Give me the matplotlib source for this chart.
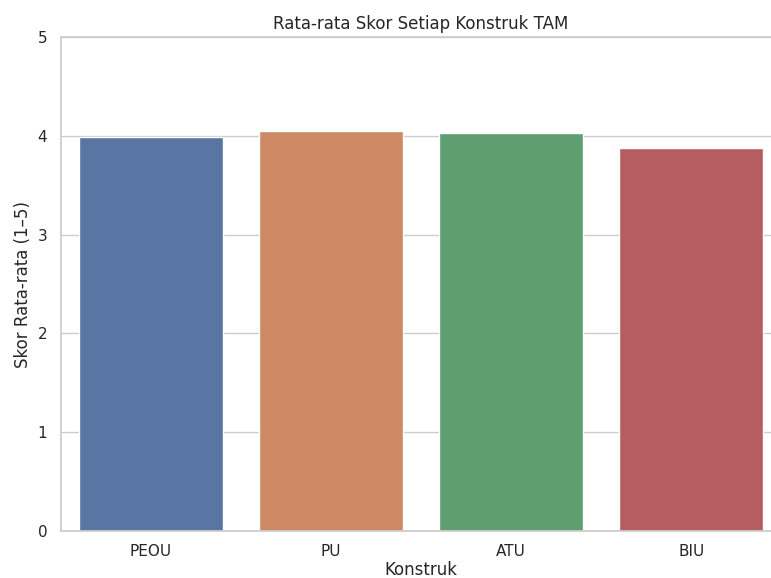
import numpy as np
import matplotlib
matplotlib.use('Agg')
import matplotlib.pyplot as plt
import seaborn as sns

# Data
konstruk = ['PEOU', 'PU', 'ATU', 'BIU']
skor = [3.983, 4.05, 4.024, 3.876]

sns.set_theme(style='whitegrid')
plt.rcParams['font.family'] = ['DejaVu Sans']

fig = plt.figure(figsize=(7.71, 5.78), dpi=100)
# axes runs a bit past the right edge (cropped in the original)
ax = fig.add_axes([0.0785, 0.0813, 0.935, 0.8547])

sns.barplot(x=konstruk, y=skor, hue=konstruk, palette='deep', legend=False, ax=ax)
ax.set_ylim(0, 5)
ax.set_title('Rata-rata Skor Setiap Konstruk TAM')
ax.set_xlabel('Konstruk', labelpad=1.5)
ax.set_ylabel('Skor Rata-rata (1–5)')

fig.savefig('out.png', dpi=100)
